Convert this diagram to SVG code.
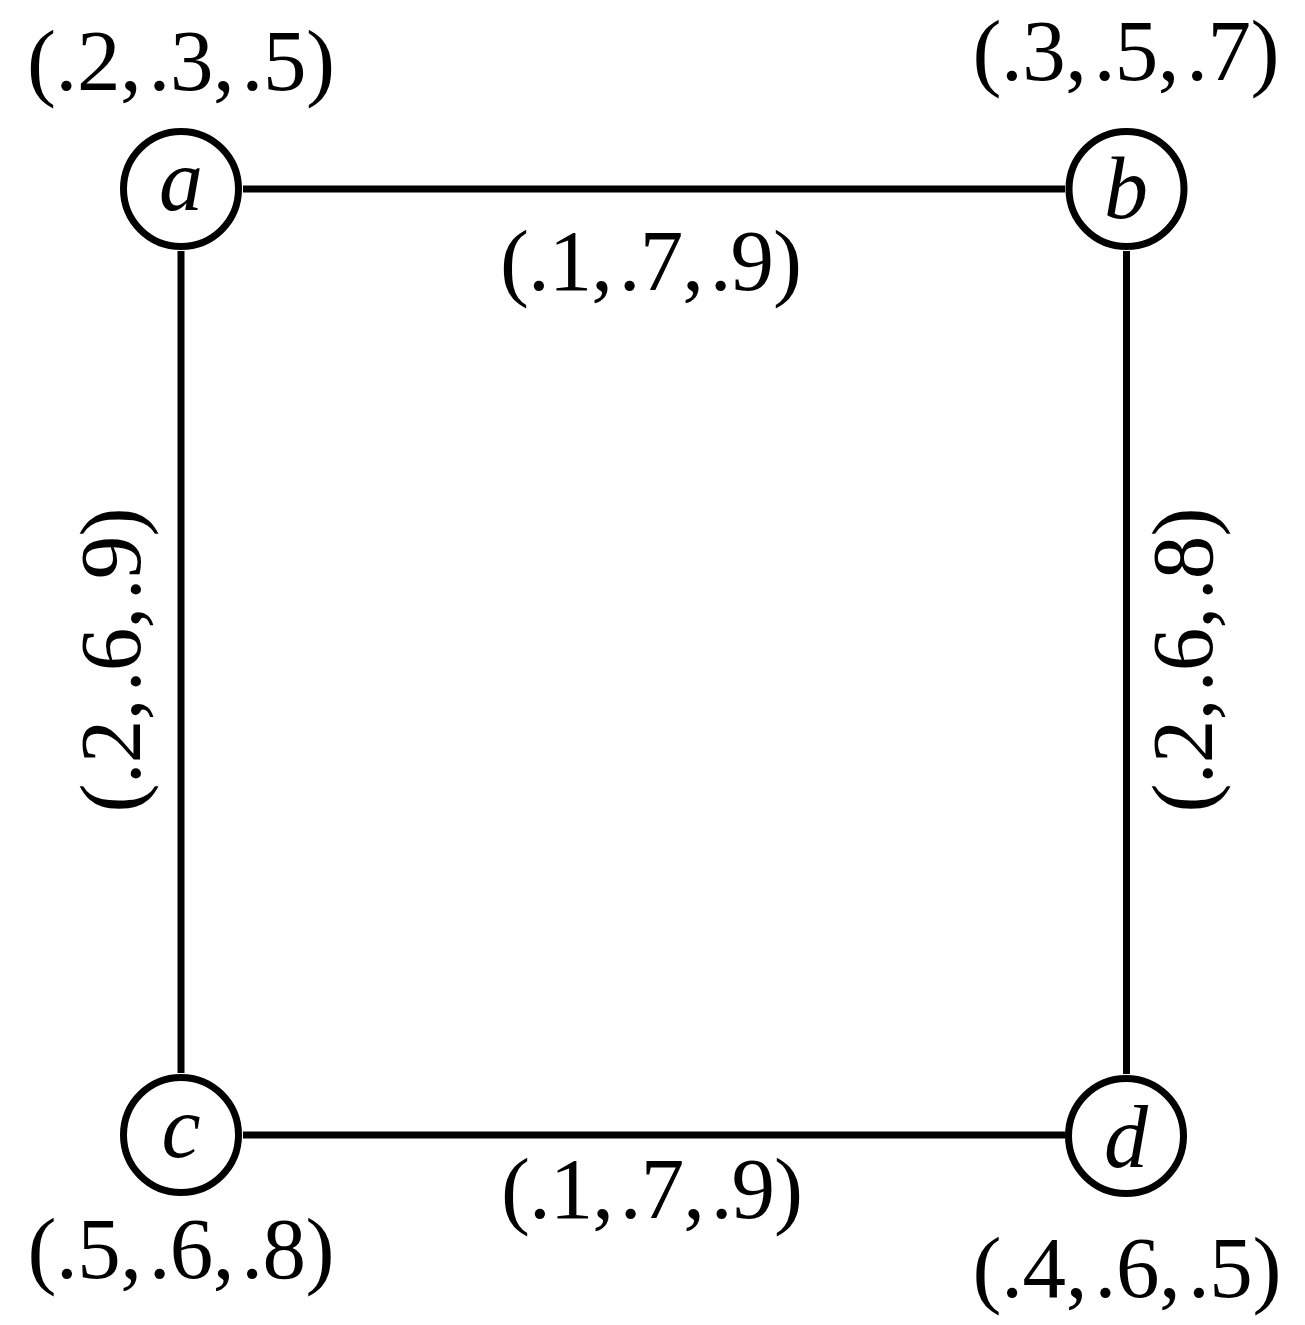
<svg xmlns="http://www.w3.org/2000/svg" width="1305" height="1325" viewBox="0 0 1305 1325">
<style>
.node{fill:#fff;stroke:#000;stroke-width:7}
.edge{stroke:#000;stroke-width:7;fill:none}
.lbl{font-family:"Liberation Serif","Times New Roman",serif;font-size:87px;word-spacing:-14px;fill:#000;text-anchor:middle}
.nl{font-family:"Liberation Serif","Times New Roman",serif;font-size:88px;font-style:italic;fill:#000;text-anchor:middle}
</style>
<rect width="1305" height="1325" fill="#fff"/>
<g id="connectors">
<line class="edge" x1="243" y1="189" x2="1065" y2="189"/>
<line class="edge" x1="181" y1="251" x2="181" y2="1073"/>
<line class="edge" x1="1126.5" y1="251" x2="1126.5" y2="1074"/>
<line class="edge" x1="243" y1="1135" x2="1065" y2="1135"/>
<text class="lbl" x="651" y="290" textLength="302" lengthAdjust="spacing">(.1, .7, .9)</text>
<text class="lbl" x="652" y="1218" textLength="302" lengthAdjust="spacing">(.1, .7, .9)</text>
<text class="lbl" transform="translate(140,660) rotate(-90)" x="0" y="0" textLength="305" lengthAdjust="spacing">(.2, .6, .9)</text>
<text class="lbl" transform="translate(1212,660) rotate(-90)" x="0" y="0" textLength="305" lengthAdjust="spacing">(.2, .6, .8)</text>
</g>
<g id="node-a">
<circle class="node" cx="181" cy="189" r="57.5"/>
<text class="nl" x="181" y="210">a</text>
<text class="lbl" x="181" y="90" textLength="308" lengthAdjust="spacing">(.2, .3, .5)</text>
</g>
<g id="node-b">
<circle class="node" cx="1126.5" cy="189" r="57.5"/>
<text class="nl" x="1126" y="218">b</text>
<text class="lbl" x="1126" y="80" textLength="307" lengthAdjust="spacing">(.3, .5, .7)</text>
</g>
<g id="node-c">
<circle class="node" cx="181" cy="1135" r="57.5"/>
<text class="nl" x="181" y="1157">c</text>
<text class="lbl" x="181" y="1278" textLength="307" lengthAdjust="spacing">(.5, .6, .8)</text>
</g>
<g id="node-d">
<circle class="node" cx="1126" cy="1136" r="57.5"/>
<text class="nl" x="1126" y="1167">d</text>
<text class="lbl" x="1127" y="1297" textLength="309" lengthAdjust="spacing">(.4, .6, .5)</text>
</g>
</svg>
